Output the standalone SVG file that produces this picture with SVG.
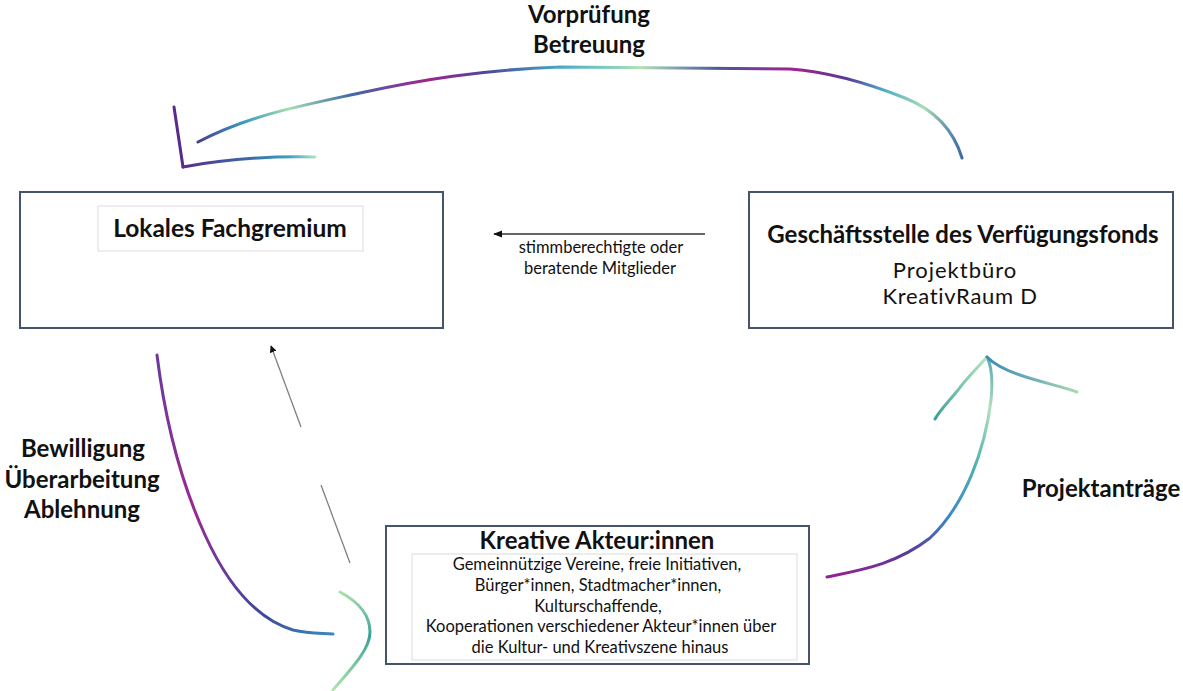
<svg xmlns="http://www.w3.org/2000/svg" width="1183" height="691" viewBox="0 0 1183 691">
<style>
  .box{fill:#fff;stroke:#44546a;stroke-width:2}
  .inner{fill:#fff;stroke:#dcdcdc;stroke-width:1}
  .b{font-family:Lato,"Liberation Sans",sans-serif;font-weight:bold;fill:#111;text-anchor:middle}
  .r{font-family:Lato,"Liberation Sans",sans-serif;fill:#111;text-anchor:middle}
  .s{font-size:16.5px}
  .sk{fill:none;stroke-width:3;stroke-linecap:round;stroke-linejoin:round}
</style>
<defs>
  <linearGradient id="gTop" gradientUnits="userSpaceOnUse" x1="198" y1="0" x2="962" y2="0">
    <stop offset="0" stop-color="#4a3c90"/>
    <stop offset="0.06" stop-color="#3a9cc0"/>
    <stop offset="0.12" stop-color="#a8dcb0"/>
    <stop offset="0.2" stop-color="#3d6aa8"/>
    <stop offset="0.3" stop-color="#a0228e"/>
    <stop offset="0.38" stop-color="#4a4a9a"/>
    <stop offset="0.48" stop-color="#48b0c8"/>
    <stop offset="0.58" stop-color="#b0e0b8"/>
    <stop offset="0.68" stop-color="#4a58a0"/>
    <stop offset="0.78" stop-color="#a0228e"/>
    <stop offset="0.85" stop-color="#5a3a98"/>
    <stop offset="0.9" stop-color="#50b0c8"/>
    <stop offset="0.95" stop-color="#a8dcb0"/>
    <stop offset="1" stop-color="#3a6aa8"/>
  </linearGradient>
  <linearGradient id="gTopHead" gradientUnits="userSpaceOnUse" x1="183" y1="0" x2="315" y2="0">
    <stop offset="0" stop-color="#5a2a8a"/>
    <stop offset="0.5" stop-color="#3a6aa8"/>
    <stop offset="0.8" stop-color="#3aa0c0"/>
    <stop offset="1" stop-color="#b0e0c0"/>
  </linearGradient>
  <linearGradient id="gLeft" gradientUnits="userSpaceOnUse" x1="157" y1="355" x2="333" y2="634">
    <stop offset="0" stop-color="#6a3a9c"/>
    <stop offset="0.45" stop-color="#9a2a90"/>
    <stop offset="0.65" stop-color="#6a3a9c"/>
    <stop offset="0.85" stop-color="#3c4a98"/>
    <stop offset="1" stop-color="#3a8ac0"/>
  </linearGradient>
  <linearGradient id="gGreen" gradientUnits="userSpaceOnUse" x1="0" y1="592" x2="0" y2="690">
    <stop offset="0" stop-color="#a8e0a8"/>
    <stop offset="0.45" stop-color="#3aa09a"/>
    <stop offset="1" stop-color="#b0e6a8"/>
  </linearGradient>
  <linearGradient id="gRight" gradientUnits="userSpaceOnUse" x1="827" y1="577" x2="990" y2="357">
    <stop offset="0" stop-color="#9a2090"/>
    <stop offset="0.25" stop-color="#5a3a9a"/>
    <stop offset="0.45" stop-color="#3a8ac8"/>
    <stop offset="0.65" stop-color="#50b0b0"/>
    <stop offset="0.85" stop-color="#b0e0b8"/>
    <stop offset="1" stop-color="#5aa8b8"/>
  </linearGradient>
  <linearGradient id="gRH" gradientUnits="userSpaceOnUse" x1="987" y1="0" x2="1077" y2="0">
    <stop offset="0" stop-color="#3a8ab8"/>
    <stop offset="1" stop-color="#a8d8b0"/>
  </linearGradient>
  <linearGradient id="gLH" gradientUnits="userSpaceOnUse" x1="0" y1="357" x2="0" y2="419">
    <stop offset="0" stop-color="#b8e4c0"/>
    <stop offset="1" stop-color="#3aa09a"/>
  </linearGradient>
  <marker id="ah" viewBox="0 0 10 10" refX="9" refY="5" markerWidth="7" markerHeight="7" orient="auto" markerUnits="userSpaceOnUse">
    <path d="M0,0 L10,5 L0,10 z" fill="#111"/>
  </marker>
  <marker id="ah2" viewBox="0 0 10 10" refX="9" refY="5" markerWidth="9" markerHeight="9" orient="auto" markerUnits="userSpaceOnUse">
    <path d="M0,1 L10,5 L0,9 z" fill="#111"/>
  </marker>
</defs>

<g id="connectors">
  <path class="sk" stroke="url(#gTop)" d="M962,158 C955,135 940,112 905,98 C870,84 830,72 790,69 L560,67 C480,70 420,80 360,93 C300,106 250,115 198,142"/>
  <path class="sk" stroke="#5a2a8a" d="M174,107 L183,167"/>
  <path class="sk" stroke="url(#gTopHead)" d="M183,167 C220,160 270,156 315,157"/>
  <line x1="705" y1="234" x2="494" y2="234" stroke="#333" stroke-width="1.5" marker-end="url(#ah2)"/>
  <path class="sk" stroke="url(#gLeft)" d="M157,355 C165,420 180,480 205,535 C230,590 260,620 293,630 C310,634 322,633 333,634"/>
  <line x1="301" y1="427" x2="271" y2="346" stroke="#808080" stroke-width="1.3" marker-end="url(#ah)"/>
  <line x1="321" y1="485" x2="350" y2="563" stroke="#808080" stroke-width="1.3"/>
  <path class="sk" stroke="url(#gGreen)" d="M340,592 C355,600 370,612 370,632 C370,650 350,670 333,690"/>
  <path class="sk" stroke="url(#gRight)" d="M827,577 C860,570 895,565 930,538 C965,505 985,450 991,400 C993,380 991,365 987,357"/>
  <path class="sk" stroke="url(#gLH)" d="M987,357 C975,370 965,380 958,390 C950,400 940,410 935,419"/>
  <path class="sk" stroke="url(#gRH)" d="M987,357 C995,365 1005,370 1020,375 C1040,382 1060,386 1077,392"/>
</g>

<g id="lokales">
  <rect class="box" x="20" y="192" width="423" height="136"/>
  <rect class="inner" x="98" y="206" width="265" height="45"/>
  <text class="b" x="230" y="237" font-size="24.5">Lokales Fachgremium</text>
</g>

<g id="geschaeftsstelle">
  <rect class="box" x="749" y="192" width="424" height="136"/>
  <text class="b" x="963" y="243" font-size="24">Geschäftsstelle des Verfügungsfonds</text>
  <text class="r" x="955" y="277.5" font-size="22" letter-spacing="1">Projektbüro</text>
  <text class="r" x="960" y="304" font-size="22" letter-spacing="0.7">KreativRaum D</text>
</g>

<g id="kreative">
  <rect class="box" x="386" y="526" width="423" height="138"/>
  <rect class="inner" x="412" y="554" width="385" height="106"/>
  <text class="b" x="597" y="549" font-size="24">Kreative Akteur:innen</text>
  <text class="r s" x="597" y="570">Gemeinnützige Vereine, freie Initiativen,</text>
  <text class="r s" x="598" y="591">Bürger*innen, Stadtmacher*innen,</text>
  <text class="r s" x="598" y="612">Kulturschaffende,</text>
  <text class="r s" x="601" y="632">Kooperationen verschiedener Akteur*innen über</text>
  <text class="r s" x="600" y="653">die Kultur- und Kreativszene hinaus</text>
</g>

<g id="labels">
  <text class="b" x="589" y="23" font-size="24">Vorprüfung</text>
  <text class="b" x="589" y="53" font-size="24">Betreuung</text>
  <text class="r s" x="601" y="253">stimmberechtigte oder</text>
  <text class="r s" x="600" y="274">beratende Mitglieder</text>
  <text class="b" x="83" y="457" font-size="24">Bewilligung</text>
  <text class="b" x="82" y="488" font-size="24">Überarbeitung</text>
  <text class="b" x="82" y="518" font-size="24">Ablehnung</text>
  <text class="b" x="1101" y="497" font-size="24">Projektanträge</text>
</g>
</svg>
